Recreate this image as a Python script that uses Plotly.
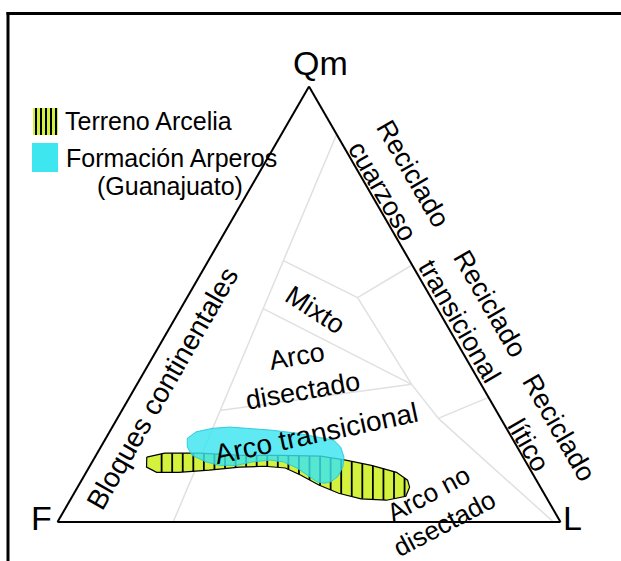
import plotly.graph_objects as go

# ---------------- data (percent Qm, F, L) ----------------
# Terreno Arcelia field (outline)
arcelia_qm = [14.9, 15.8, 15.8, 15.3, 15.3, 15.1, 14.2, 13.0, 11.4, 9.6, 8.0, 5.9,
              5.0, 5.3, 6.6, 8.5, 10.8, 12.4, 12.8, 12.6, 11.9, 11.4, 11.4, 12.6]
arcelia_f = [74.8, 70.8, 63.9, 56.1, 48.1, 40.1, 35.6, 31.1, 26.9, 25.6, 26.0, 27.8,
             32.1, 37.0, 40.8, 43.8, 46.3, 48.5, 52.4, 57.5, 63.9, 70.2, 74.6, 76.0]
arcelia_l = [10.3, 13.4, 20.3, 28.6, 36.6, 44.8, 50.2, 55.9, 61.7, 64.8, 66.0, 66.3,
             62.9, 57.7, 52.6, 47.7, 42.9, 39.1, 34.8, 29.9, 24.2, 18.4, 14.0, 11.4]

# Formacion Arperos (Guanajuato) field (outline)
arperos_qm = [19.2, 20.7, 21.5, 21.8, 21.5, 21.1, 20.4, 19.5, 18.8, 17.2, 14.9, 12.7, 10.4,
              9.2, 8.9, 9.2, 10.8, 12.4, 13.8, 14.2, 13.8, 13.0, 13.0, 13.8, 15.3, 17.2]
arperos_f = [64.6, 62.1, 58.4, 54.9, 51.6, 47.1, 42.2, 38.6, 35.7, 35.1, 35.6, 36.9, 39.1,
             41.1, 42.6, 43.8, 45.0, 46.2, 48.2, 50.6, 54.3, 57.9, 61.3, 63.6, 65.6, 65.6]
arperos_l = [16.2, 17.2, 20.1, 23.3, 26.9, 31.8, 37.4, 41.9, 45.5, 47.7, 49.5, 50.4, 50.5,
             49.7, 48.5, 47.0, 44.2, 41.4, 38.0, 35.2, 31.9, 29.1, 25.7, 22.6, 19.1, 17.2]

# Provenance field boundaries (segment start / end points)
seg_start_qm = [89.0, 60.0, 59.0, 51.5, 49.0, 25.6, 31.6, 23.8, 23.8]
seg_start_f = [0.0, 25.1, 0.0, 14.6, 34.6, 54.9, 13.8, 12.4, 12.4]
seg_start_l = [11.0, 14.9, 41.0, 33.9, 16.4, 19.5, 54.6, 63.8, 63.8]
seg_end_qm = [0.0, 51.5, 51.5, 31.6, 31.6, 31.6, 23.8, 28.6, 0.0]
seg_end_f = [77.0, 14.6, 14.6, 13.8, 13.8, 13.8, 12.4, 0.0, 1.4]
seg_end_l = [23.0, 33.9, 33.9, 54.6, 54.6, 54.6, 63.8, 71.4, 98.6]

legend_labels = ["Terreno Arcelia", "Formación Arperos", "(Guanajuato)"]
vertex_labels = ["Qm", "F", "L"]

FONT = "Liberation Sans, Arial, sans-serif"
W, H = 621, 561

fig = go.Figure()

# boundaries
bq, bf, bl = [], [], []
for i in range(len(seg_start_qm)):
    bq += [seg_start_qm[i], seg_end_qm[i], None]
    bf += [seg_start_f[i], seg_end_f[i], None]
    bl += [seg_start_l[i], seg_end_l[i], None]
fig.add_trace(go.Scatterternary(a=bq, b=bf, c=bl, mode="lines",
                                line=dict(color="#e0e0e0", width=1.5),
                                hoverinfo="skip", connectgaps=False))

# Arcelia fill
fig.add_trace(go.Scatterternary(a=arcelia_qm + [arcelia_qm[0]], b=arcelia_f + [arcelia_f[0]],
                                c=arcelia_l + [arcelia_l[0]], mode="lines", fill="toself",
                                fillcolor="#d4f13e", line=dict(color="black", width=1.2),
                                hoverinfo="skip"))

# vertical hatching of Arcelia field (screen-vertical lines: constant L + Qm/2)
X = [l + q / 2.0 for q, l in zip(arcelia_qm, arcelia_l)]
Y = list(arcelia_qm)
n = len(X)
hq, hf, hl = [], [], []
step = 2.1
x0 = 20.7
xmin, xmax = min(X), max(X)
k = 0
while True:
    xv = x0 + k * step
    k += 1
    if xv > xmax:
        break
    if xv < xmin:
        continue
    ys = []
    for i in range(n):
        x1, y1 = X[i], Y[i]
        x2, y2 = X[(i + 1) % n], Y[(i + 1) % n]
        if (x1 - xv) * (x2 - xv) < 0:
            ys.append(y1 + (xv - x1) * (y2 - y1) / (x2 - x1))
    ys.sort()
    for j in range(0, len(ys) - 1, 2):
        for yy in (ys[j], ys[j + 1]):
            lq = xv - yy / 2.0
            hq.append(yy)
            hl.append(lq)
            hf.append(100 - yy - lq)
        hq.append(None); hf.append(None); hl.append(None)
fig.add_trace(go.Scatterternary(a=hq, b=hf, c=hl, mode="lines",
                                line=dict(color="black", width=1.8),
                                hoverinfo="skip", connectgaps=False))

# Arperos fill (translucent cyan on top)
fig.add_trace(go.Scatterternary(a=arperos_qm + [arperos_qm[0]], b=arperos_f + [arperos_f[0]],
                                c=arperos_l + [arperos_l[0]], mode="lines", fill="toself",
                                fillcolor="rgba(58,228,240,0.82)",
                                line=dict(color="rgba(40,200,215,0.9)", width=1),
                                hoverinfo="skip"))

axis_style = dict(showticklabels=False, ticks="", showgrid=False, linecolor="black",
                  linewidth=2, title=dict(text=""), showline=True)

x0p, x1p = 57.5 / W, 560.5 / W
base_w = 503.0
tri_h = base_w * 3 ** 0.5 / 2
yb = (H - 522) / H
yt = (H - 522 + tri_h) / H

fig.update_layout(
    width=W, height=H, margin=dict(l=0, r=0, t=0, b=0),
    paper_bgcolor="white", plot_bgcolor="white", showlegend=False,
    font=dict(family=FONT, color="black"),
    ternary=dict(sum=100, bgcolor="rgba(0,0,0,0)",
                 domain=dict(x=[x0p, x1p], y=[yb, yt]),
                 aaxis=axis_style, baxis=axis_style, caxis=axis_style),
)

def px(x):
    return x / W

def py(y):
    return 1 - y / H

ann = []
def add_text(text, x, y, size, angle=0, xanchor="center", align="center"):
    ann.append(dict(text=text, x=px(x), y=py(y), xref="paper", yref="paper",
                    showarrow=False, textangle=angle, xanchor=xanchor, yanchor="middle",
                    align=align, font=dict(family=FONT, size=size, color="black")))

# vertex labels
add_text(vertex_labels[0], 320, 63, 34)
add_text(vertex_labels[1], 41, 518, 34)
add_text(vertex_labels[2], 572, 518, 34)

# field labels
add_text("Bloques continentales", 162, 388, 28, -60)
add_text("Reciclado<br>cuarzoso", 398, 182, 27, 60)
add_text("Reciclado<br>transicional", 475, 312, 27, 60)
add_text("Reciclado<br>lítico", 544, 436, 27, 60)
add_text("Mixto", 315, 310, 27, 33)
add_text("Arco<br>disectado", 300, 373, 27, -10)
add_text("Arco transicional", 316, 434, 28, -12)
add_text("Arco no<br>disectado", 436, 509, 26, -28)

# legend text
add_text(legend_labels[0], 63, 121, 25, 0, xanchor="left")
add_text(legend_labels[1], 171, 158, 25, 0)
add_text(legend_labels[2], 170, 186, 25, 0)
fig.update_layout(annotations=ann)

# legend swatches + frame
shapes = []
shapes.append(dict(type="rect", xref="paper", yref="paper", x0=px(33), x1=px(58),
                   y0=py(135), y1=py(108), fillcolor="#d4f13e", line=dict(width=0)))
for xs in [36, 41, 46, 51, 56]:
    shapes.append(dict(type="line", xref="paper", yref="paper", x0=px(xs), x1=px(xs),
                       y0=py(135), y1=py(108), line=dict(color="black", width=2)))
shapes.append(dict(type="rect", xref="paper", yref="paper", x0=px(32), x1=px(58),
                   y0=py(172), y1=py(143), fillcolor="#3ee6ef", line=dict(width=0)))
shapes.append(dict(type="line", xref="paper", yref="paper", x0=px(8), x1=px(8),
                   y0=0, y1=py(12), line=dict(color="black", width=3)))
shapes.append(dict(type="line", xref="paper", yref="paper", x0=px(6.5), x1=1,
                   y0=py(13.5), y1=py(13.5), line=dict(color="black", width=3)))
fig.update_layout(shapes=shapes)

fig.write_html("out.html", config={"displayModeBar": False, "staticPlot": True},
               post_script="document.body.style.margin='0px';document.body.style.overflow='hidden';")
